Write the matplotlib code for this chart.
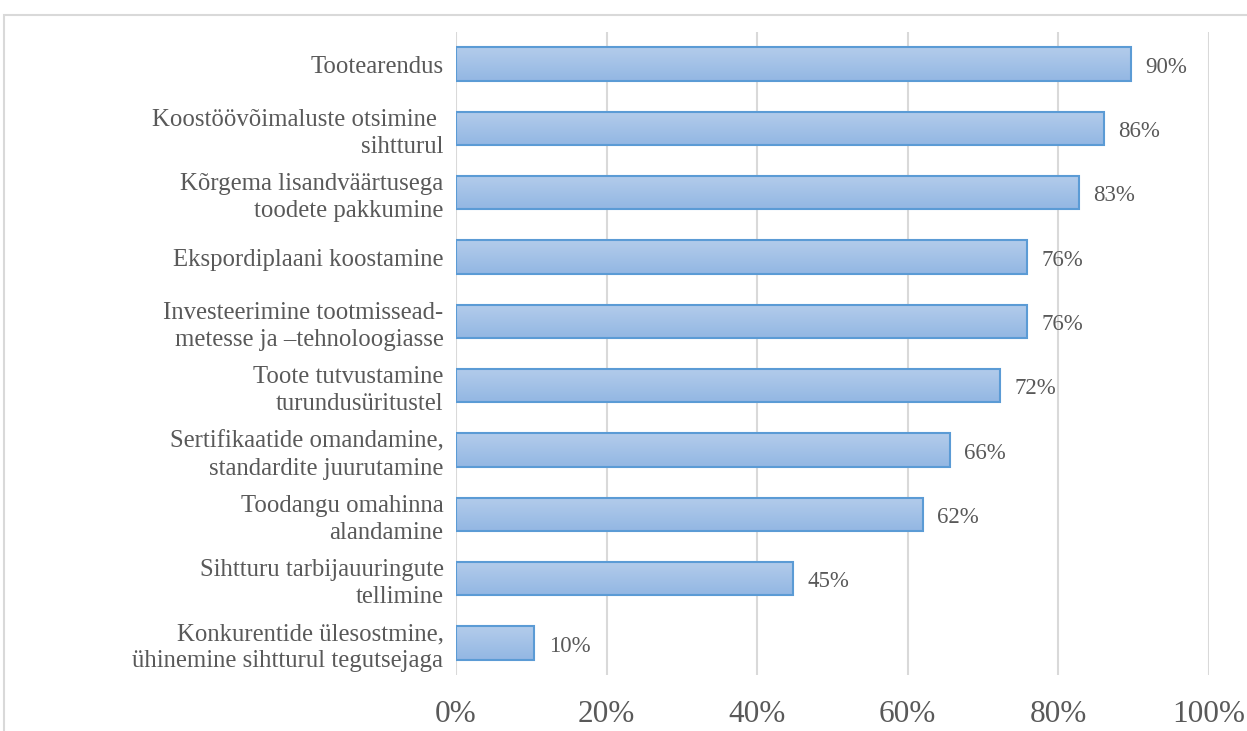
import numpy as np
import matplotlib.pyplot as plt
from matplotlib.colors import LinearSegmentedColormap
from matplotlib.patches import Rectangle

# data (top to bottom)
categories = [
    "Tootearendus",
    "Koostöövõimaluste otsimine \nsihtturul",
    "Kõrgema lisandväärtusega\ntoodete pakkumine",
    "Ekspordiplaani koostamine",
    "Investeerimine tootmissead-\nmetesse ja –tehnoloogiasse",
    "Toote tutvustamine\nturundusüritustel",
    "Sertifikaatide omandamine,\nstandardite juurutamine",
    "Toodangu omahinna\nalandamine",
    "Sihtturu tarbijauuringute\ntellimine",
    "Konkurentide ülesostmine,\nühinemine sihtturul tegutsejaga",
]
values = [89.6, 86.0, 82.7, 75.8, 75.8, 72.3, 65.6, 62.0, 44.8, 10.4]
value_labels = ["90%", "86%", "83%", "76%", "76%", "72%", "66%", "62%", "45%", "10%"]
x_ticks = [0, 20, 40, 60, 80, 100]
x_tick_labels = ["0%", "20%", "40%", "60%", "80%", "100%"]

text_color = "#595959"
grid_color = "#d9d9d9"
edge_color = "#5b9bd5"
grad = LinearSegmentedColormap.from_list("bar", ["#b3cceb", "#93b7e3"])

plt.rcParams["font.family"] = ["Liberation Serif", "DejaVu Serif"]

fig = plt.figure(figsize=(12.47, 7.31), dpi=100)
ax = fig.add_axes([456 / 1247, 1 - 675 / 731, (1209 - 456) / 1247, (675 - 32) / 731])

# outer chart frame
fig.patches.append(Rectangle((4 / 1247, -0.1), 1.2, 1 - 15 / 731 + 0.1,
                             transform=fig.transFigure, fill=False,
                             edgecolor=grid_color, linewidth=1.5))

y = np.arange(len(categories))
bar_h = 0.52
bars = ax.barh(y, values, height=bar_h, color="none", edgecolor=edge_color,
               linewidth=1.5, zorder=3)

# vertical gradient fill clipped to each bar
gradient = np.linspace(0, 1, 64).reshape(-1, 1)
for bar, v in zip(bars, values):
    yc = bar.get_y()
    im = ax.imshow(gradient, cmap=grad, aspect="auto",
                   extent=[0, v, yc + bar_h, yc], zorder=2, origin="upper")
    im.set_clip_path(bar)

for yi, v, lab in zip(y, values, value_labels):
    ax.text(v + 1.9, yi + 0.05, lab, va="center", ha="left",
            fontsize=16.5, color=text_color)

ax.set_xlim(0, 100)
ax.set_ylim(len(categories) - 0.5, -0.5)
ax.set_xticks(x_ticks)
ax.set_xticklabels(x_tick_labels, fontsize=22.5, color=text_color)
ax.set_yticks(y)
ax.set_yticklabels(categories, fontsize=17.8, color=text_color, linespacing=1.3)
ax.tick_params(axis="x", length=0, pad=18)
ax.tick_params(axis="y", length=0, pad=9)

ax.grid(True, axis="x", color=grid_color, linewidth=1.5, zorder=0)
ax.set_axisbelow(True)
for s in ax.spines.values():
    s.set_visible(False)

fig.savefig("out.png", dpi=100)
